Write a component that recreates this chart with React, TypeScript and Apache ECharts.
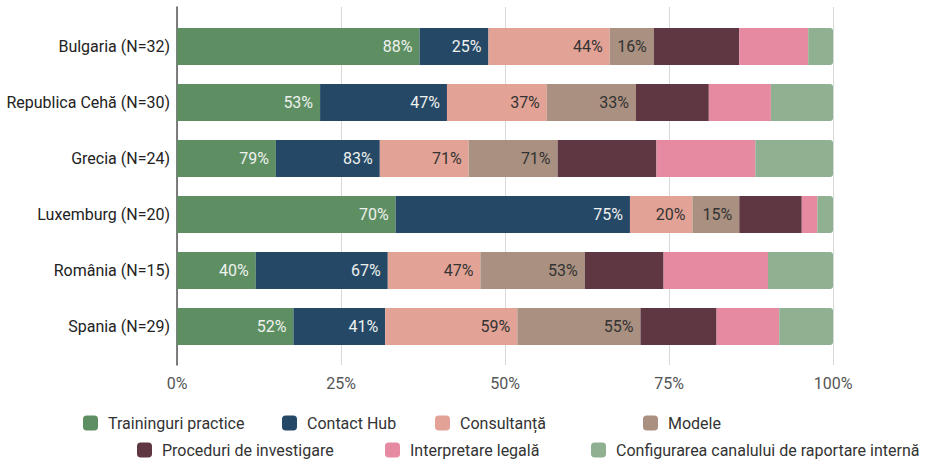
import React, { useEffect, useRef } from "react";
import * as echarts from "echarts";

const categories = [
  "Bulgaria (N=32)",
  "Republica Cehă (N=30)",
  "Grecia (N=24)",
  "Luxemburg (N=20)",
  "România (N=15)",
  "Spania (N=29)",
];

const seriesNames = [
  "Traininguri practice",
  "Contact Hub",
  "Consultanță",
  "Modele",
  "Proceduri de investigare",
  "Interpretare legală",
  "Configurarea canalului de raportare internă",
];

const training = [88, 53, 79, 70, 40, 52];
const contactHub = [25, 47, 83, 75, 67, 41];
const consultanta = [44, 37, 71, 20, 47, 59];
const modele = [16, 33, 71, 15, 53, 55];
const proceduri = [31, 27, 79, 20, 40, 34];
const interpretare = [25, 23, 79, 5, 53, 28];
const configurare = [9, 23, 62, 5, 33, 24];

const xTicks = [0, 25, 50, 75, 100];

const colors = ["#5e8f63", "#264867", "#e2a396", "#a99080", "#5e3742", "#e68aa2", "#8fb191"];
const labelColors = ["#eef2ee", "#eef2ee", "#333333", "#333333", null, null, null];

const legendPos = [
  [83, 415],
  [282, 415],
  [435, 415],
  [643, 415],
  [137, 442],
  [385, 442],
  [591, 442],
];

export default function App() {
  const ref = useRef<HTMLDivElement>(null);
  useEffect(() => {
    if (!ref.current) return;
    const chart = echarts.init(ref.current, undefined, { renderer: "svg" });
    const raw = [training, contactHub, consultanta, modele, proceduri, interpretare, configurare];
    const totals = categories.map((_, i) => raw.reduce((s, arr) => s + arr[i], 0));
    const font = "Roboto, 'Noto Sans', sans-serif";

    const series = raw.map((arr, si) => ({
      name: seriesNames[si],
      type: "bar",
      stack: "total",
      xAxisIndex: 1,
      yAxisIndex: 1,
      barWidth: 37,
      data: arr.map((v, i) => ({ value: (v / totals[i]) * 100, raw: v })),
      itemStyle: {
        color: colors[si],
        borderRadius: si === raw.length - 1 ? [0, 3, 3, 0] : 0,
      },
      label: labelColors[si]
        ? {
            show: true,
            position: "insideRight",
            distance: 7,
            color: labelColors[si],
            fontSize: 16,
            fontFamily: font,
            formatter: (p: any) => `${p.data.raw}%`,
          }
        : { show: false },
      emphasis: { disabled: true },
    }));

    const legends = seriesNames.map((n, i) => ({
      data: [n],
      left: legendPos[i][0],
      top: legendPos[i][1],
      padding: 0,
      itemWidth: 15,
      itemHeight: 15,
      icon: "roundRect",
      selectedMode: false,
      textStyle: { fontSize: 16, color: "#333", fontFamily: font, padding: [0, 0, 0, 5] },
    }));

    chart.setOption({
      animation: false,
      color: colors,
      textStyle: { fontFamily: font },
      legend: legends,
      grid: [
        { left: 177, right: 98, top: 7, bottom: 95 },
        { left: 177, right: 98, top: 18.5, height: 336 },
      ],
      xAxis: [
        {
          type: "value",
          gridIndex: 0,
          min: xTicks[0],
          max: xTicks[xTicks.length - 1],
          interval: 25,
          axisLine: { show: false },
          axisTick: { show: false },
          splitLine: { show: true, lineStyle: { color: "#d9d9d9", width: 1 } },
          axisLabel: { formatter: "{value}%", fontSize: 16, color: "#555", margin: 10, fontFamily: font },
        },
        {
          type: "value",
          gridIndex: 1,
          min: 0,
          max: 100,
          show: false,
        },
      ],
      yAxis: [
        {
          type: "value",
          gridIndex: 0,
          min: 0,
          max: 1,
          axisLine: { show: true, lineStyle: { color: "#555", width: 1.5 } },
          axisTick: { show: false },
          axisLabel: { show: false },
          splitLine: { show: false },
        },
        {
          type: "category",
          gridIndex: 1,
          data: categories,
          inverse: true,
          axisLine: { show: false },
          axisTick: { show: false },
          axisLabel: { fontSize: 16, color: "#222", margin: 7, fontFamily: font },
        },
      ],
      series,
    });
    return () => chart.dispose();
  }, []);
  return (
    <div
      ref={ref}
      style={{ position: "fixed", left: 0, top: 0, width: 931, height: 460, background: "#fff" }}
    />
  );
}
